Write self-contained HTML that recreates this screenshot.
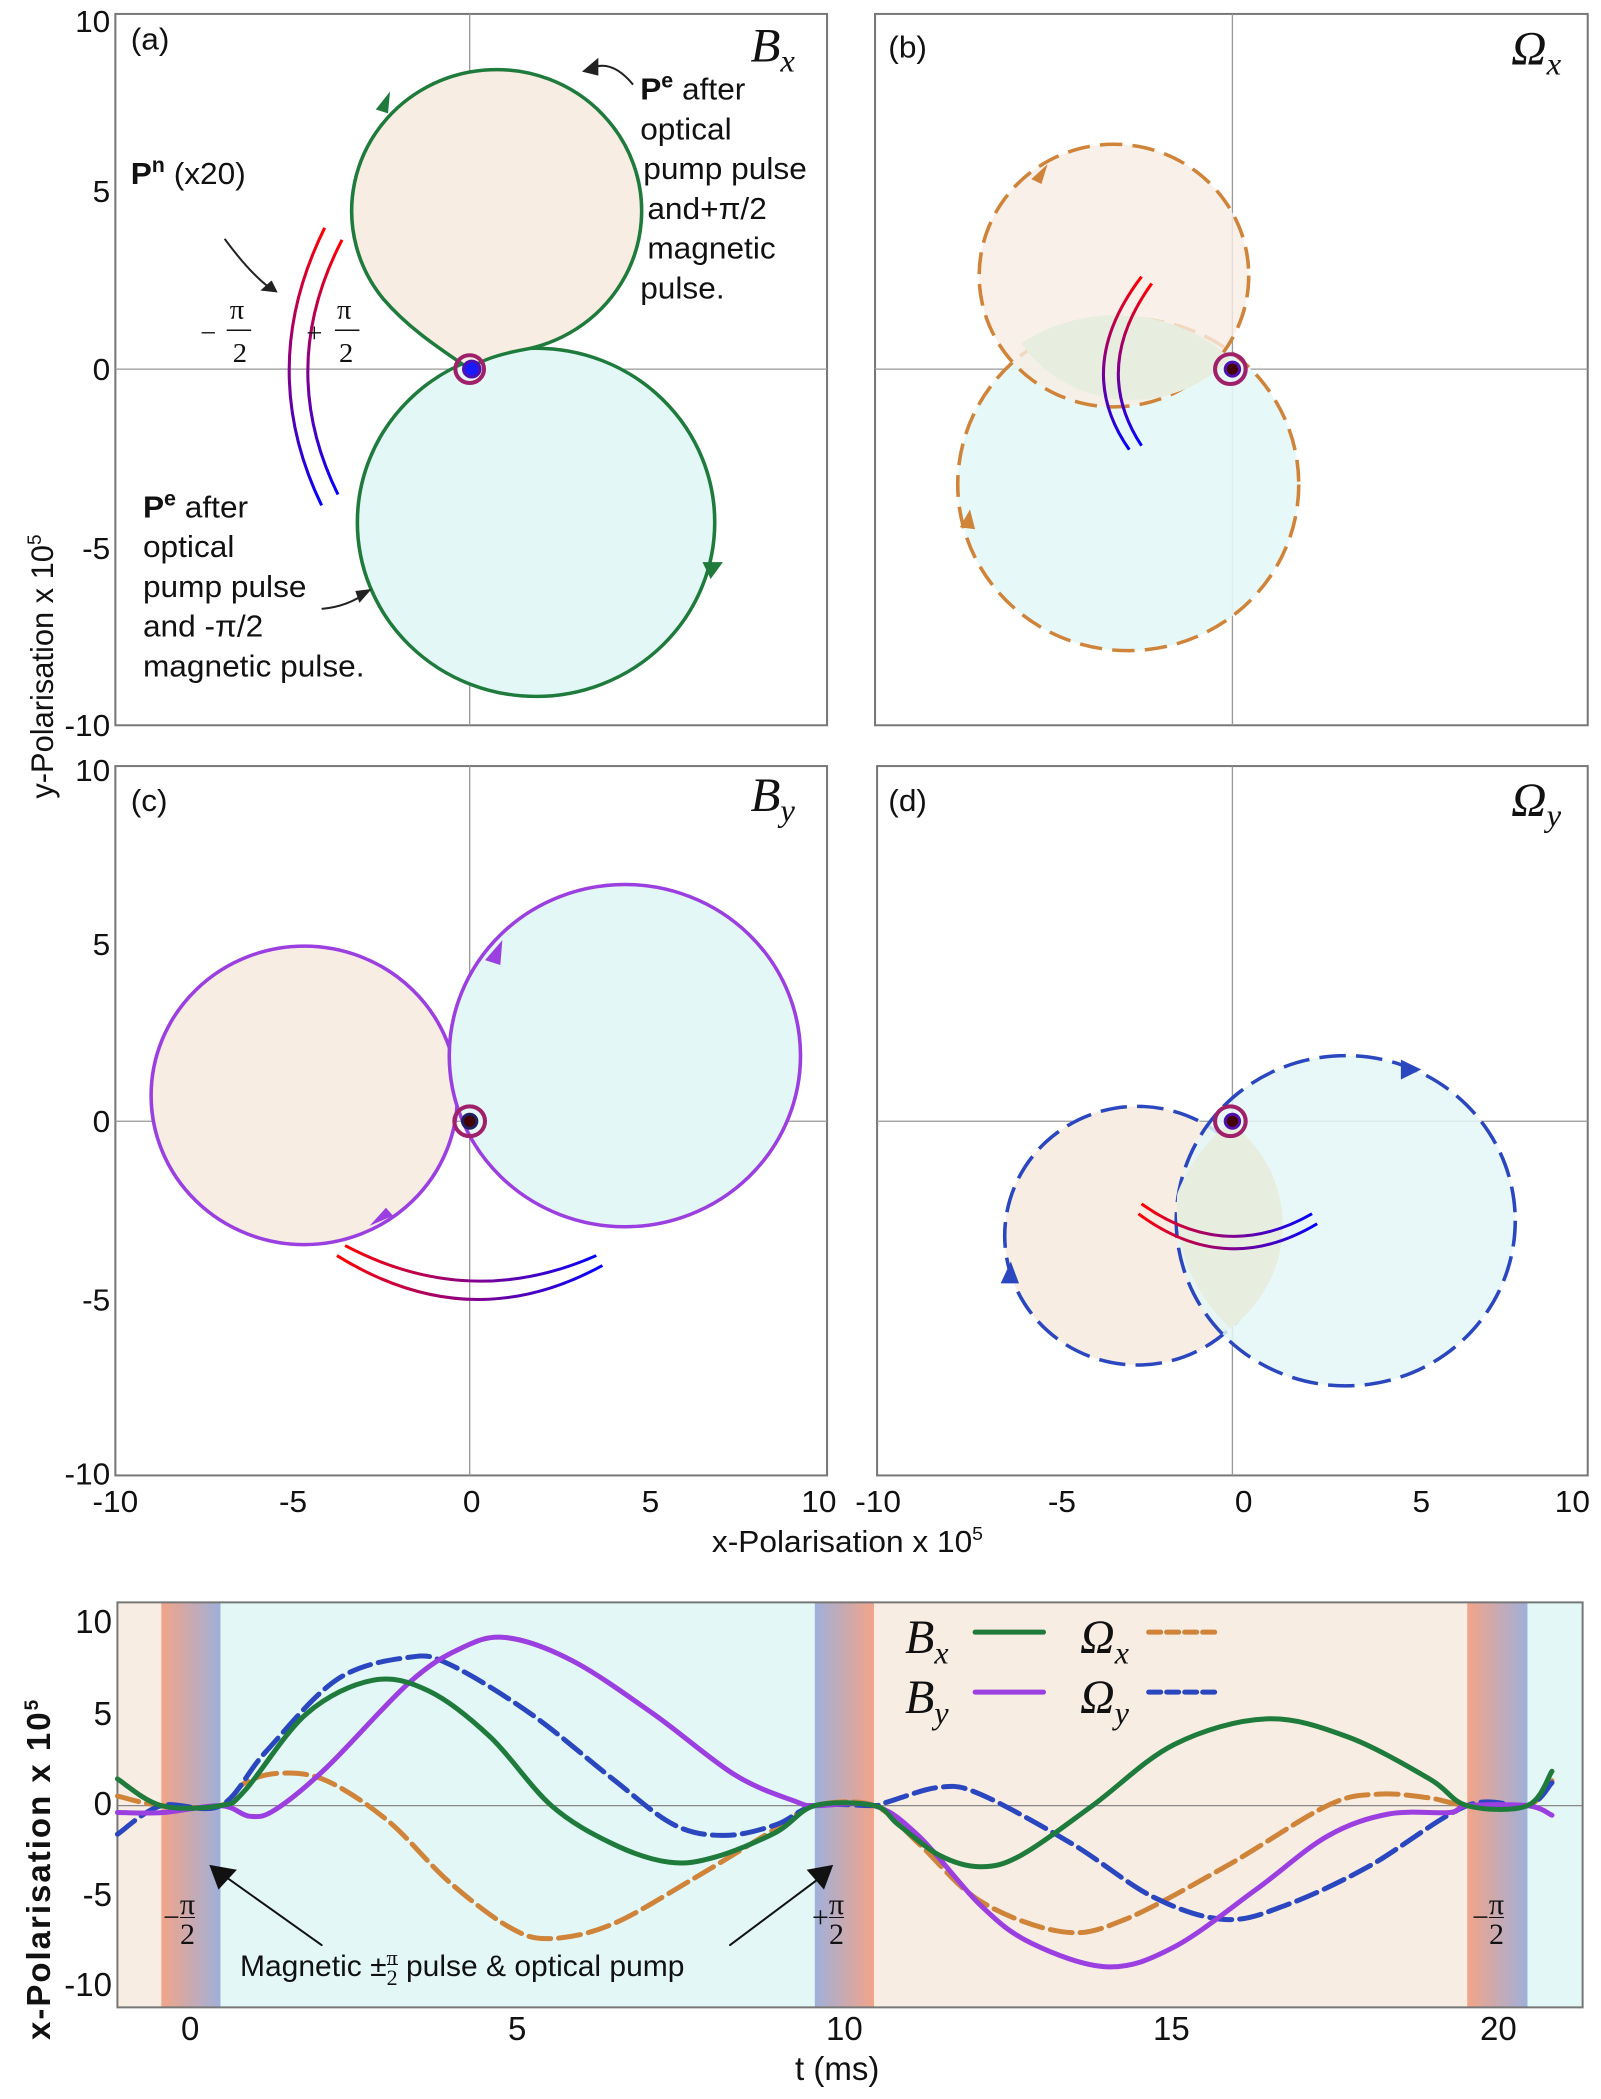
<!DOCTYPE html>
<html><head><meta charset="utf-8"><style>
body{margin:0;background:#fff;}
#w{position:relative;width:1601px;height:2099px;overflow:hidden;font-family:"Liberation Sans",sans-serif;}
svg{position:absolute;left:0;}
.t{position:absolute;font-size:31px;color:#111;white-space:nowrap;}
.b{font-size:33px;}
</style></head><body><div id="w">
<svg style="top:0" width="1601" height="1560" viewBox="0 0 1568 1568" preserveAspectRatio="none">
<defs>
<linearGradient id="gv" x1="0" y1="0" x2="0" y2="1"><stop offset="0" stop-color="#f00"/><stop offset="0.5" stop-color="#808"/><stop offset="1" stop-color="#00f"/></linearGradient>
<linearGradient id="gh" x1="0" y1="0" x2="1" y2="0"><stop offset="0" stop-color="#f00"/><stop offset="0.5" stop-color="#808"/><stop offset="1" stop-color="#00f"/></linearGradient>
</defs>
<g fill="none" stroke="#777" stroke-width="2">
<rect x="113" y="14" width="697" height="715"/><rect x="857" y="14" width="698" height="715"/>
<rect x="113" y="770" width="697" height="713"/><rect x="859" y="770" width="696" height="713"/>
</g>
<g stroke="#999" stroke-width="1.3">
<line x1="460" y1="14" x2="460" y2="729"/><line x1="113" y1="371" x2="810" y2="371"/>
<line x1="1207" y1="14" x2="1207" y2="729"/><line x1="857" y1="371" x2="1555" y2="371"/>
<line x1="460" y1="770" x2="460" y2="1483"/><line x1="113" y1="1127" x2="810" y2="1127"/>
<line x1="1207" y1="770" x2="1207" y2="1483"/><line x1="859" y1="1127" x2="1555" y2="1127"/>
</g>
<!-- (a) -->
<circle cx="525" cy="525" r="175" fill="#e4f7f7" stroke="#1e7b3c" stroke-width="3.5"/>
<path d="M460 371 C430 350 400 330 375 300 A142 142 0 1 1 510 352 C490 356 470 362 460 371 Z" fill="#f8ede3" stroke="#1e7b3c" stroke-width="3.5"/>
<polygon points="368,110 382,92 380,114" fill="#1e7b3c"/><polygon points="688,565 708,565 696,582" fill="#1e7b3c"/>
<path d="M318 229 Q250 370 315 508" fill="none" stroke="url(#gv)" stroke-width="3"/>
<path d="M335 241 Q270 370 331 497" fill="none" stroke="url(#gv)" stroke-width="3"/>
<circle cx="460" cy="371" r="14" fill="none" stroke="#a0206a" stroke-width="4"/><circle cx="462" cy="371" r="8" fill="#1a1aff" stroke="#5010b0" stroke-width="3"/>
<!-- (b) -->
<circle cx="1105" cy="487" r="167" fill="#e4f7f7" fill-opacity="0.9" stroke="#cf843a" stroke-width="3.5" stroke-dasharray="22 10"/>
<circle cx="1091" cy="277" r="132" fill="#f8ede3" fill-opacity="0.8" stroke="#cf843a" stroke-width="3.5" stroke-dasharray="22 10"/>
<path d="M1000 345 A167 167 0 0 1 1205 360 A132 132 0 0 1 1000 345Z" fill="#e8eedf"/>
<polygon points="1010,180 1026,165 1020,185" fill="#cf843a"/><polygon points="940,530 950,512 955,532" fill="#cf843a"/>
<path d="M1118 278 Q1050 370 1106 452" fill="none" stroke="url(#gv)" stroke-width="3"/>
<path d="M1128 285 Q1068 370 1118 448" fill="none" stroke="url(#gv)" stroke-width="3"/>
<circle cx="1205" cy="371" r="15" fill="none" stroke="#a0206a" stroke-width="4"/><circle cx="1207" cy="371" r="7" fill="#400" stroke="#5010b0" stroke-width="3"/>
<!-- (c) -->
<circle cx="298" cy="1101" r="150" fill="#f8ede3" stroke="#9b3fe0" stroke-width="3.5"/>
<circle cx="612" cy="1061" r="172" fill="#e4f7f7" stroke="#9b3fe0" stroke-width="3.5"/>
<polygon points="475,965 492,945 490,970" fill="#9b3fe0"/><polygon points="385,1222 362,1232 378,1214" fill="#9b3fe0"/>
<path d="M330 1262 Q460 1345 590 1272" fill="none" stroke="url(#gh)" stroke-width="3"/>
<path d="M338 1252 Q460 1318 584 1262" fill="none" stroke="url(#gh)" stroke-width="3"/>
<circle cx="460" cy="1127" r="15" fill="none" stroke="#a0206a" stroke-width="4"/><circle cx="460" cy="1127" r="7" fill="#400" stroke="#202060" stroke-width="3"/>
<!-- (d) -->
<circle cx="1114" cy="1242" r="130" fill="#f8ede3" stroke="#2a47c0" stroke-width="3.5" stroke-dasharray="26 10"/>
<circle cx="1318" cy="1227" r="166" fill="#e4f7f7" fill-opacity="0.85" stroke="#2a47c0" stroke-width="3.5" stroke-dasharray="26 10"/>
<path d="M1153 1200 A166 166 0 0 1 1205 1128 A130 130 0 0 1 1205 1335 A166 166 0 0 1 1153 1200Z" fill="#e8eedf"/>
<polygon points="1372,1065 1392,1075 1372,1085" fill="#2a47c0"/><polygon points="980,1290 990,1268 998,1290" fill="#2a47c0"/>
<path d="M1118 1210 Q1200 1270 1285 1220" fill="none" stroke="url(#gh)" stroke-width="3"/>
<path d="M1115 1220 Q1200 1285 1290 1230" fill="none" stroke="url(#gh)" stroke-width="3"/>
<circle cx="1205" cy="1127" r="15" fill="none" stroke="#a0206a" stroke-width="4"/><circle cx="1207" cy="1127" r="7" fill="#400" stroke="#5010b0" stroke-width="3"/>
<!-- annotation arrows -->
<g fill="none" stroke="#222" stroke-width="2"><path d="M620 85 Q600 60 580 68"/><path d="M220 240 Q245 275 265 290"/><path d="M315 612 Q340 610 360 595"/></g>
<polygon points="570,72 586,58 586,76" fill="#222"/><polygon points="272,294 255,292 266,282" fill="#222"/><polygon points="364,592 352,606 348,594" fill="#222"/>
<g font-family="Liberation Sans, sans-serif" font-size="31" fill="#111">
<text x="128" y="50">(a)</text><text x="870" y="58">(b)</text><text x="128" y="815">(c)</text><text x="870" y="815">(d)</text>
<text x="627" y="100"><tspan font-weight="bold">P</tspan><tspan font-weight="bold" font-size="21" dy="-12">e</tspan><tspan dy="12"> after</tspan></text>
<text x="627" y="140">optical</text><text x="630" y="180">pump pulse</text><text x="634" y="220">and+π/2</text><text x="634" y="260">magnetic</text><text x="627" y="300">pulse.</text>
<text x="128" y="185"><tspan font-weight="bold">P</tspan><tspan font-weight="bold" font-size="21" dy="-12">n</tspan><tspan dy="12"> (x20)</tspan></text>
<text x="140" y="520"><tspan font-weight="bold">P</tspan><tspan font-weight="bold" font-size="21" dy="-12">e</tspan><tspan dy="12"> after</tspan></text>
<text x="140" y="560">optical</text><text x="140" y="600">pump pulse</text><text x="140" y="640">and -π/2</text><text x="140" y="680">magnetic pulse.</text>
<g font-family="Liberation Serif, serif" font-size="28"><text x="225" y="320">π</text><text x="228" y="364">2</text><text x="330" y="320">π</text><text x="332" y="364">2</text><text x="196" y="344">−</text><text x="300" y="344">+</text></g>
<line x1="222" y1="332" x2="246" y2="332" stroke="#111" stroke-width="1.5"/><line x1="328" y1="332" x2="352" y2="332" stroke="#111" stroke-width="1.5"/>
<g font-family="Liberation Serif, serif" font-style="italic" font-size="48"><text x="735" y="62">B<tspan font-size="32" dy="10">x</tspan></text><text x="1480" y="65">Ω<tspan font-size="32" dy="10">x</tspan></text>
<text x="735" y="815">B<tspan font-size="32" dy="10">y</tspan></text><text x="1480" y="820">Ω<tspan font-size="32" dy="10">y</tspan></text></g>
<g text-anchor="end"><text x="108" y="32">10</text><text x="108" y="203">5</text><text x="108" y="382">0</text><text x="108" y="562">-5</text><text x="108" y="740">-10</text>
<text x="108" y="785">10</text><text x="108" y="960">5</text><text x="108" y="1138">0</text><text x="108" y="1317">-5</text><text x="108" y="1492">-10</text></g>
<g text-anchor="middle"><text x="113" y="1520">-10</text><text x="287" y="1520">-5</text><text x="462" y="1520">0</text><text x="637" y="1520">5</text><text x="802" y="1520">10</text>
<text x="860" y="1520">-10</text><text x="1040" y="1520">-5</text><text x="1218" y="1520">0</text><text x="1392" y="1520">5</text><text x="1540" y="1520">10</text></g>
<text x="830" y="1560" text-anchor="middle">x-Polarisation  x 10<tspan font-size="19" dy="-12">5</tspan></text>
<text transform="translate(52,670) rotate(-90)" text-anchor="middle">y-Polarisation  x 10<tspan font-size="19" dy="-12">5</tspan></text>
</g>
</svg>

<svg id="bs" style="top:1500" width="1601" height="599" viewBox="0 0 1568 1568" preserveAspectRatio="none">
<defs>
<linearGradient id="ob" x1="0" x2="1" y1="0" y2="0"><stop offset="0" stop-color="#f2a488"/><stop offset="1" stop-color="#9fb0da"/></linearGradient>
<linearGradient id="bo" x1="0" x2="1" y1="0" y2="0"><stop offset="0" stop-color="#9fb0da"/><stop offset="1" stop-color="#f2a488"/></linearGradient>
</defs>
<rect x="115" y="268" width="43" height="1060" fill="#f8ede3"/><rect x="158" y="268" width="58" height="1060" fill="url(#ob)"/>
<rect x="216" y="268" width="582" height="1060" fill="#e4f7f7"/><rect x="798" y="268" width="58" height="1060" fill="url(#bo)"/>
<rect x="856" y="268" width="581" height="1060" fill="#f8ede3"/><rect x="1437" y="268" width="59" height="1060" fill="url(#ob)"/>
<rect x="1496" y="268" width="54" height="1060" fill="#e4f7f7"/>
<line x1="115" y1="800" x2="1550" y2="800" stroke="#888" stroke-width="1.3" vector-effect="non-scaling-stroke"/>
<rect x="115" y="268" width="1435" height="1060" fill="none" stroke="#777" stroke-width="2" vector-effect="non-scaling-stroke"/>
<g fill="none" stroke-width="5" stroke-linejoin="round" stroke-linecap="round">
<polyline class="sm" vector-effect="non-scaling-stroke" stroke="#cf843a" stroke-dasharray="22 8" points="115,775 158,800 216,800 240,740 275,715 320,735 380,840 440,1000 500,1120 540,1148 600,1110 680,990 760,860 798,800 856,800 900,900 960,1050 1040,1130 1100,1100 1200,960 1300,800 1350,770 1400,780 1437,800 1496,800 1520,735"/>
<polyline class="sm" vector-effect="non-scaling-stroke" stroke="#2a47c0" stroke-dasharray="22 8" points="115,875 158,800 216,800 260,660 330,470 400,412 440,430 520,560 600,730 660,850 710,878 760,850 798,800 856,800 870,790 920,752 960,770 1050,900 1130,1040 1200,1098 1260,1060 1340,960 1437,800 1496,800 1520,740"/>
<polyline class="sm" vector-effect="non-scaling-stroke" stroke="#9b3fe0" points="115,818 160,818 216,800 245,828 270,810 320,700 400,480 450,390 495,360 560,420 640,560 720,720 780,790 798,800 856,800 900,880 960,1060 1010,1160 1085,1222 1150,1170 1230,1020 1300,880 1360,822 1420,818 1437,800 1496,800 1520,825"/>
<polyline class="sm" vector-effect="non-scaling-stroke" stroke="#1e7b3c" points="115,730 158,800 216,800 240,760 300,560 365,472 420,500 480,620 540,800 600,900 655,948 700,935 760,870 798,800 856,800 880,850 920,930 960,960 1000,930 1070,800 1150,640 1240,573 1320,620 1400,730 1437,800 1496,800 1520,710"/>
<line vector-effect="non-scaling-stroke" x1="955" y1="346" x2="1022" y2="346" stroke="#1e7b3c"/>
<line vector-effect="non-scaling-stroke" x1="955" y1="503" x2="1022" y2="503" stroke="#9b3fe0"/>
<line vector-effect="non-scaling-stroke" x1="1125" y1="346" x2="1195" y2="346" stroke="#cf843a" stroke-dasharray="12 6"/>
<line vector-effect="non-scaling-stroke" x1="1125" y1="503" x2="1195" y2="503" stroke="#2a47c0" stroke-dasharray="12 6"/>
<line vector-effect="non-scaling-stroke" x1="315" y1="1165" x2="215" y2="975" stroke="#111" stroke-width="2"/>
<line vector-effect="non-scaling-stroke" x1="715" y1="1165" x2="810" y2="975" stroke="#111" stroke-width="2"/>
</g>
<polygon points="205,955 232,968 214,1020" fill="#111"/><polygon points="816,955 790,968 807,1020" fill="#111"/>
</svg>
<script>
document.querySelectorAll('polyline.sm').forEach(function(pl){
 var p=pl.getAttribute('points').trim().split(/\s+/).map(function(s){return s.split(',').map(Number);});
 var d='M'+p[0][0]+' '+p[0][1];
 for(var i=0;i<p.length-1;i++){
  var p0=p[i-1]||p[i],p1=p[i],p2=p[i+1],p3=p[i+2]||p2;
  var c1=[p1[0]+(p2[0]-p0[0])/6,p1[1]+(p2[1]-p0[1])/6],c2=[p2[0]-(p3[0]-p1[0])/6,p2[1]-(p3[1]-p1[1])/6];
  d+=' C'+c1[0]+' '+c1[1]+' '+c2[0]+' '+c2[1]+' '+p2[0]+' '+p2[1];
 }
 var path=document.createElementNS('http://www.w3.org/2000/svg','path');
 ['stroke','stroke-dasharray','vector-effect'].forEach(function(a){if(pl.getAttribute(a))path.setAttribute(a,pl.getAttribute(a));});
 path.setAttribute('d',d);pl.parentNode.replaceChild(path,pl);
});
</script>
<div class="t b" style="left:20px;top:1870px;transform:rotate(-90deg);transform-origin:0 0;width:0"><span style="position:absolute;left:-170px;top:0;font-weight:bold;letter-spacing:2px">x-Polarisation  x 10<sup style="font-size:19px">5</sup></span></div>
<div class="t b" style="left:52px;top:1603px;width:60px;text-align:right">10</div>
<div class="t b" style="left:52px;top:1695px;width:60px;text-align:right">5</div>
<div class="t b" style="left:52px;top:1785px;width:60px;text-align:right">0</div>
<div class="t b" style="left:52px;top:1876px;width:60px;text-align:right">-5</div>
<div class="t b" style="left:52px;top:1966px;width:60px;text-align:right">-10</div>
<div class="t b" style="left:181px;top:2010px">0</div><div class="t b" style="left:508px;top:2010px">5</div>
<div class="t b" style="left:826px;top:2010px">10</div><div class="t b" style="left:1153px;top:2010px">15</div><div class="t b" style="left:1480px;top:2010px">20</div>
<div class="t b" style="left:795px;top:2050px">t (ms)</div>
<div class="t" style="left:240px;top:1948px;font-size:30px">Magnetic ±<span style="display:inline-block;vertical-align:middle;text-align:center;font-family:'Liberation Serif',serif;font-size:22px;line-height:20px">π<br><span style="border-top:1px solid #111">2</span></span> pulse &amp; optical pump</div>
<div class="t" style="left:163px;top:1890px;font-family:'Liberation Serif',serif;font-size:30px;line-height:30px">−<span style="display:inline-block;vertical-align:middle;text-align:center">π<br><span style="border-top:1px solid #111">2</span></span></div>
<div class="t" style="left:812px;top:1890px;font-family:'Liberation Serif',serif;font-size:30px;line-height:30px">+<span style="display:inline-block;vertical-align:middle;text-align:center">π<br><span style="border-top:1px solid #111">2</span></span></div>
<div class="t" style="left:1472px;top:1890px;font-family:'Liberation Serif',serif;font-size:30px;line-height:30px">−<span style="display:inline-block;vertical-align:middle;text-align:center">π<br><span style="border-top:1px solid #111">2</span></span></div>
<div class="t" style="left:905px;top:1610px;font-family:'Liberation Serif',serif;font-style:italic;font-size:48px">B<sub style="font-size:32px">x</sub></div>
<div class="t" style="left:905px;top:1670px;font-family:'Liberation Serif',serif;font-style:italic;font-size:48px">B<sub style="font-size:32px">y</sub></div>
<div class="t" style="left:1080px;top:1610px;font-family:'Liberation Serif',serif;font-style:italic;font-size:48px">Ω<sub style="font-size:32px">x</sub></div>
<div class="t" style="left:1080px;top:1670px;font-family:'Liberation Serif',serif;font-style:italic;font-size:48px">Ω<sub style="font-size:32px">y</sub></div>
</div></body></html>
